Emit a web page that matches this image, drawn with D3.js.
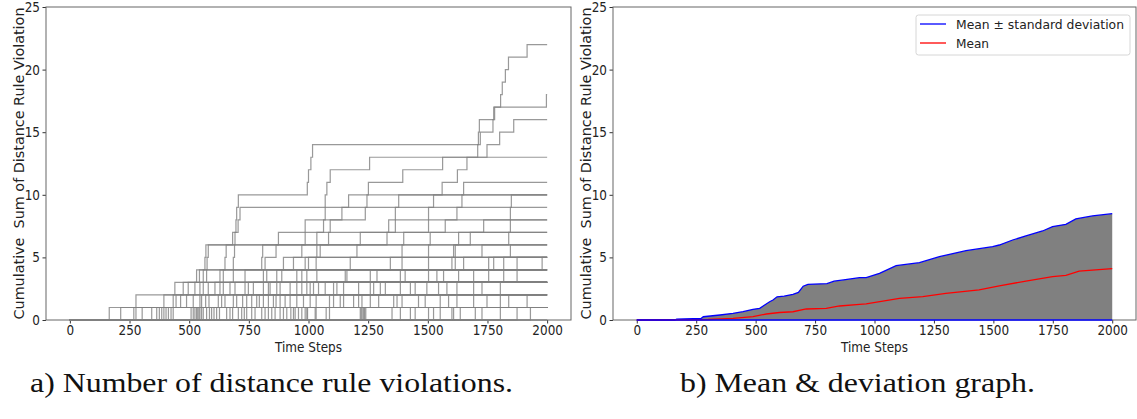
<!DOCTYPE html>
<meta charset="utf-8">
<style>
body { margin: 0; background: #fff; }
text { font-family: "DejaVu Sans", sans-serif; }
</style>
<body>
<div id="chart"></div>
</body>
<script src="https://d3js.org/d3.v7.min.js"></script>
<script>

// ---- data ----
var xTicks = [0, 250, 500, 750, 1000, 1250, 1500, 1750, 2000];
var yTicks = [0, 5, 10, 15, 20, 25];

// panel a: time steps at which runs step up to level k (k = 1..22), earliest first
var runCount = 81;
var jumpTimesByLevel = [
  [165, 213, 268, 277, 303, 343, 364, 375, 385, 394, 403, 413, 424, 433, 508, 517, 524, 531, 536, 541,
   545, 552, 559, 573, 585, 594, 604, 615, 627, 657, 671, 682, 706, 720, 731, 741, 762, 776, 804, 818,
   832, 846, 860, 881, 895, 909, 926, 937, 944, 958, 972, 986, 993, 996, 1028, 1032, 1074, 1088, 1217, 1221,
   1225, 1231, 1235, 1240, 1350, 1385, 1427, 1447, 1503, 1524, 1552, 1601, 1608, 1636, 1699, 1727, 1804, 1874, 1930],
  [277, 394, 433, 445, 464, 489, 517, 545, 552, 569, 583, 622, 636, 650, 685, 699, 724, 741, 762, 783,
   794, 811, 832, 853, 864, 881, 902, 923, 951, 979, 1007, 1032, 1088, 1105, 1133, 1147, 1189, 1210, 1224, 1259,
   1294, 1357, 1371, 1392, 1461, 1489, 1552, 1587, 1622, 1692, 1748, 1804, 1839, 1916],
  [440, 475, 496, 524, 545, 559, 580, 608, 629, 643, 671, 692, 734, 748, 769, 811, 832, 839, 867, 881,
   923, 951, 972, 993, 1007, 1021, 1042, 1070, 1105, 1119, 1147, 1210, 1259, 1273, 1301, 1322, 1385, 1427, 1447, 1496,
   1545, 1580, 1622, 1692, 1727, 1804],
  [531, 543, 559, 573, 629, 643, 685, 734, 811, 825, 867, 888, 951, 972, 993, 1035, 1154, 1161, 1259, 1287,
   1385, 1405, 1503, 1538, 1566, 1629, 1692, 1755, 1818, 1874],
  [566, 575, 650, 685, 804, 818, 895, 937, 986, 1000, 1032, 1175, 1343, 1392, 1503, 1601, 1615, 1650, 1755, 1776,
   1818, 1874, 1979],
  [570, 580, 655, 690, 808, 864, 972, 1035, 1049, 1203, 1392, 1503, 1608, 1615, 1727, 1846],
  [682, 692, 874, 986, 1035, 1084, 1217, 1329, 1399, 1510, 1629, 1678, 1839],
  [696, 705, 986, 1063, 1091, 1336, 1364, 1503, 1573, 1734, 1846],
  [699, 713, 1070, 1140, 1238, 1364, 1503, 1622, 1846],
  [706, 1070, 1168, 1245, 1378, 1524, 1643, 1850],
  [995, 1077, 1251, 1560, 1650],
  [1000, 1091, 1395, 1624],
  [1010, 1256, 1562, 1664],
  [1017, 1709, 1748],
  [1712, 1720, 1801],
  [1716, 1773, 1860],
  [1776, 1780],
  [1805, 1997],
  [1812],
  [1825],
  [1838],
  [1916]
];

// panel b: mean + std (upper), mean, and lower bound
var upperTimes  = [0, 160, 168, 270, 280, 350, 405, 447, 489, 517, 538, 559, 573, 590, 620, 657, 680, 700, 720, 800,
                   830, 870, 937, 965, 1021, 1091, 1189, 1273, 1385, 1497, 1525, 1581, 1637, 1707, 1749, 1805, 1847, 1917, 2000];
var upperValues = [0, 0, 0.07, 0.12, 0.26, 0.4, 0.53, 0.66, 0.85, 0.93, 1.2, 1.46, 1.6, 1.85, 1.9, 2.05, 2.2, 2.7, 2.85, 2.9,
                   3.1, 3.2, 3.38, 3.38, 3.73, 4.34, 4.58, 5.06, 5.54, 5.86, 5.99, 6.39, 6.71, 7.11, 7.46, 7.64, 8.07, 8.31, 8.49];
var meanTimes  = [0, 250, 300, 405, 489, 545, 600, 657, 713, 797, 853, 937, 965, 1105, 1203, 1300, 1440, 1525, 1637, 1749, 1805, 1861, 2000];
var meanValues = [0, 0.02, 0.04, 0.13, 0.27, 0.48, 0.6, 0.66, 0.88, 0.93, 1.12, 1.25, 1.28, 1.73, 1.86, 2.13, 2.4, 2.72, 3.11, 3.46, 3.57, 3.91, 4.1];
var lowerTimes  = [0, 2000];
var lowerValues = [0, 0];

var legendLabels = ["Mean \u00b1 standard deviation", "Mean"];
var legendColors = ["#0000ff", "#ff0000"];

// ---- layout ----
var width = 1137, height = 419;
var plotTop = 7, plotBottom = 320;
var panels = [
  {left: 46, right: 571, caption: "a) Number of distance rule violations.", capX: 30, capW: 483},
  {left: 613, right: 1136, caption: "b) Mean & deviation graph.", capX: 680, capW: 355}
];

var svg = d3.select("#chart").append("svg")
    .attr("width", width)
    .attr("height", height)

function drawFrame(p) {
  var x = d3.scaleLinear([-100, 2100], [p.left, p.right]);
  var y = d3.scaleLinear([0, 25], [plotBottom, plotTop]);
  var g = svg.append("g");

  var xa = g.append("g")
      .attr("transform", "translate(0," + plotBottom + ")")
      .call(d3.axisBottom(x).tickValues(xTicks).tickFormat(d3.format("d"))
        .tickSize(3.5).tickPadding(2).tickSizeOuter(0));
  var ya = g.append("g")
      .attr("transform", "translate(" + p.left + ",0)")
      .call(d3.axisLeft(y).tickValues(yTicks).tickFormat(d3.format("d"))
        .tickSize(3.5).tickPadding(3.5).tickSizeOuter(0));
  [xa, ya].forEach(function(a) {
    a.select(".domain").remove();
    a.selectAll("line").attr("stroke", "#333");
    a.selectAll("text")
      .style("font-size", "14px")
      .attr("fill", "#222")
      .attr("transform", "scale(0.86,1)");
  });

  g.append("rect")
    .attr("x", p.left).attr("y", plotTop)
    .attr("width", p.right - p.left).attr("height", plotBottom - plotTop)
    .attr("fill", "none").attr("stroke", "#666").attr("stroke-width", 1);

  var cx = (p.left + p.right) / 2;
  g.append("text")
    .attr("x", cx).attr("y", 352)
    .attr("text-anchor", "middle")
    .attr("transform", "translate(" + (cx * 0.14) + ",0) scale(0.86,1)")
    .style("font-size", "14px")
    .attr("fill", "#222")
    .text("Time Steps");

  g.append("text")
    .attr("transform", "translate(" + (p.left - 27) + "," + ((plotTop + plotBottom) / 2) + ") rotate(-90)")
    .attr("text-anchor", "middle")
    .attr("dy", "0.35em")
    .attr("textLength", 312)
    .attr("lengthAdjust", "spacingAndGlyphs")
    .style("font-size", "14px")
    .style("white-space", "pre")
    .attr("fill", "#222")
    .text("Cumulative  Sum of Distance Rule Violation");

  svg.append("text")
    .attr("x", p.capX).attr("y", 392)
    .attr("textLength", p.capW)
    .attr("lengthAdjust", "spacingAndGlyphs")
    .style("font-size", "28px")
    .style("font-family", "'Liberation Serif', 'DejaVu Serif', serif")
    .attr("fill", "#111")
    .text(p.caption);

  return {x: x, y: y, g: g};
}

// ---- panel a ----
var a = drawFrame(panels[0]);
var runs = d3.range(runCount).map(function(i) {
  var pts = [[0, 0]], prev = 0, lvl = 0;
  jumpTimesByLevel.forEach(function(times, k) {
    if (times.length > i) {
      prev = Math.max(times[i], prev);
      lvl = k + 1;
      pts.push([prev, lvl]);
    }
  });
  pts.push([2000, lvl]);
  return pts;
});

var stepLine = d3.line()
    .x(function(d) { return a.x(d[0]); })
    .y(function(d) { return a.y(d[1]); })
    .curve(d3.curveStepAfter);

a.g.append("g").selectAll("path")
  .data(runs.slice().reverse())
  .join("path")
    .attr("d", stepLine)
    .attr("fill", "none")
    .attr("stroke", "#808080")
    .attr("stroke-opacity", 0.8)
    .attr("stroke-width", 1.2);

// ---- panel b ----
var b = drawFrame(panels[1]);
var upper = upperTimes.map(function(t, i) { return [t, upperValues[i]]; });
var mean = meanTimes.map(function(t, i) { return [t, meanValues[i]]; });
var lower = lowerTimes.map(function(t, i) { return [t, lowerValues[i]]; });

b.g.append("path")
  .datum(upper)
  .attr("d", d3.area()
    .x(function(d) { return b.x(d[0]); })
    .y0(b.y(0))
    .y1(function(d) { return b.y(d[1]); }))
  .attr("fill", "#808080");

var lineB = d3.line()
    .x(function(d) { return b.x(d[0]); })
    .y(function(d) { return b.y(d[1]); });

b.g.append("path").datum(upper).attr("d", lineB)
  .attr("fill", "none").attr("stroke", legendColors[0]).attr("stroke-width", 1.3);
b.g.append("path").datum(mean).attr("d", lineB)
  .attr("fill", "none").attr("stroke", legendColors[1]).attr("stroke-width", 1.3);
b.g.append("path").datum(lower).attr("d", lineB)
  .attr("fill", "none").attr("stroke", legendColors[0]).attr("stroke-width", 1.3);

// legend
var leg = b.g.append("g");
leg.append("rect")
  .attr("x", 916).attr("y", 15).attr("width", 214).attr("height", 40)
  .attr("rx", 2.5)
  .attr("fill", "#fff").attr("fill-opacity", 0.8)
  .attr("stroke", "#d6d6d6");
leg.selectAll("line")
  .data(legendLabels)
  .join("line")
    .attr("x1", 920).attr("x2", 946)
    .attr("y1", function(d, i) { return 24 + i * 19; })
    .attr("y2", function(d, i) { return 24 + i * 19; })
    .attr("stroke", function(d, i) { return legendColors[i]; })
    .attr("stroke-width", 1.3);
leg.selectAll("text")
  .data(legendLabels)
  .join("text")
    .attr("x", 956)
    .attr("y", function(d, i) { return 29 + i * 19; })
    .attr("textLength", function(d, i) { return i === 0 ? 168 : 33; })
    .attr("lengthAdjust", "spacingAndGlyphs")
    .style("font-size", "13px")
    .attr("fill", "#222")
    .text(function(d) { return d; });

</script>
